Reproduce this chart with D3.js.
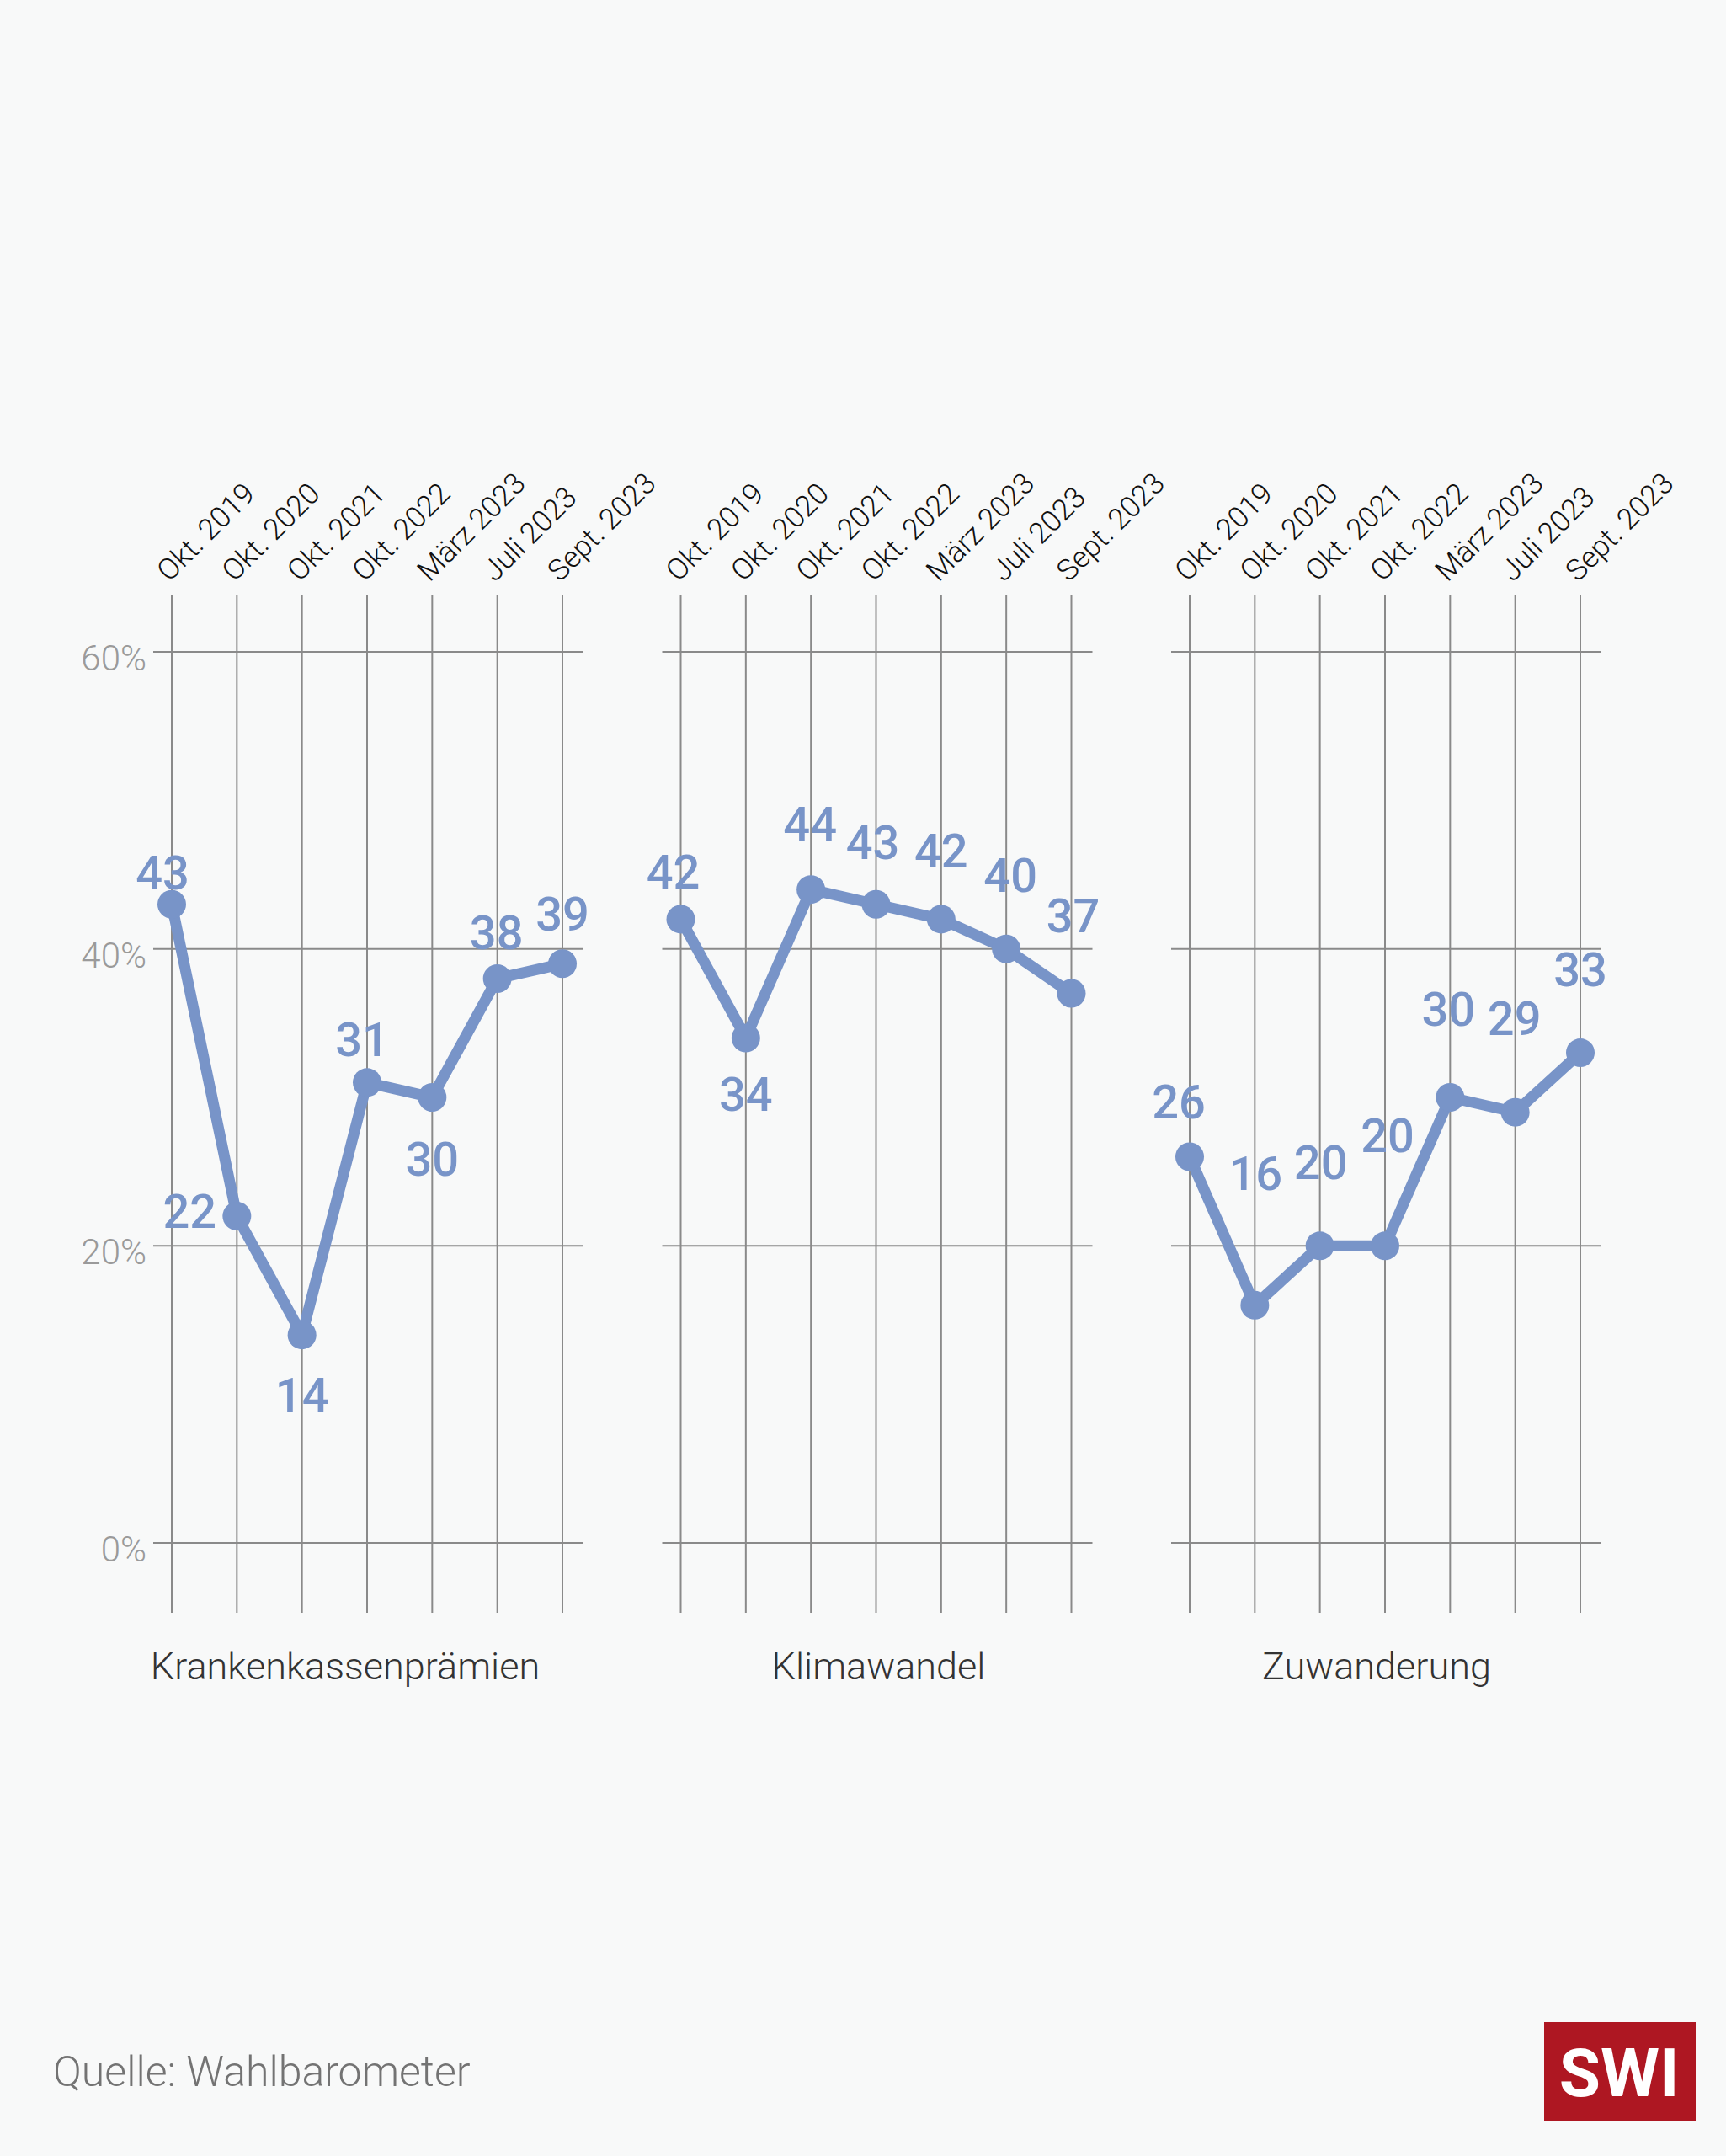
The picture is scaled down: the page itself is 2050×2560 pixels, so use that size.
<!DOCTYPE html>
<html>
<head>
<meta charset="utf-8">
<script src="https://cdn.jsdelivr.net/npm/d3@7"></script>
<style>
  html, body { margin: 0; padding: 0; background: #f8f9f9; }
  svg { display: block; font-family: Roboto, "Noto Sans", sans-serif; }
</style>
</head>
<body>
<div id="chart"></div>
<script>
// data
var dates   = ["Okt. 2019", "Okt. 2020", "Okt. 2021", "Okt. 2022", "März 2023", "Juli 2023", "Sept. 2023"];
var topics  = ["Krankenkassenprämien", "Klimawandel", "Zuwanderung"];
var kranken = [43, 22, 14, 31, 30, 38, 39];
var klima   = [42, 34, 44, 43, 42, 40, 37];
var zuwand  = [26, 16, 20, 20, 30, 29, 33];
var yTicks  = [0, 20, 40, 60];
var source  = "Quelle: Wahlbarometer";

// where each value label sits relative to its dot (dx, dy of label centre)
var labelNudge = [
    [[-11, -38], [-56, -6], [0, 71], [-6, -52], [0, 73], [-1, -55], [0, -59]],
    [[-9, -57], [0, 66], [-1, -78], [-4, -74], [0, -82], [5, -88], [2, -93]],
    [[-13, -66], [1, -157], [1, -99], [3, -131], [-2, -105], [-1, -112], [0, -99]]
];
var titleShift = [-26, 3, -10];

var series = [kranken, klima, zuwand];

var W = 2050, H = 2560;
var blue = "#7894c8";
var grid = "#8a8a8a";

var svg = d3.select("#chart").append("svg").attr("width", W).attr("height", H);
svg.append("rect").attr("width", W).attr("height", H).attr("fill", "#f8f9f9");

var panelX = d3.scalePoint().domain(topics).range([204, 1413]);
var panelW = 464;
var y = d3.scaleLinear().domain([0, 60]).range([1832, 774]);
var lineTop = 706, lineBottom = 1915;

function draw_panel(index, topic) {
    var x0 = panelX(topic);
    var x = d3.scalePoint().domain(dates).range([x0, x0 + panelW]);
    var values = series[index];
    var g = svg.append("g");

    // vertical grid lines
    g.selectAll("line.v").data(dates).enter().append("line")
        .attr("x1", function(d) { return x(d); })
        .attr("x2", function(d) { return x(d); })
        .attr("y1", lineTop)
        .attr("y2", lineBottom)
        .attr("stroke", grid)
        .attr("stroke-width", 2);

    // horizontal grid lines
    g.selectAll("line.h").data(yTicks).enter().append("line")
        .attr("x1", x0 - 22)
        .attr("x2", x0 + panelW + 25)
        .attr("y1", function(d) { return y(d); })
        .attr("y2", function(d) { return y(d); })
        .attr("stroke", grid)
        .attr("stroke-width", 2);

    // rotated date labels
    g.selectAll("text.date").data(dates).enter().append("text")
        .attr("transform", function(d) { return "translate(" + (x(d) - 3) + "," + (lineTop - 14) + ") rotate(-45)"; })
        .attr("font-size", 35)
        .attr("font-weight", 300)
        .attr("fill", "#111")
        .text(function(d) { return d; });

    // y axis labels only on the first panel
    if (index === 0) {
        g.selectAll("text.ytick").data(yTicks).enter().append("text")
            .attr("x", x0 - 30)
            .attr("y", function(d) { return y(d) + 22; })
            .attr("text-anchor", "end")
            .attr("font-size", 42)
            .attr("font-weight", 300)
            .attr("fill", "#9a9a9a")
            .text(function(d) { return d + "%"; });
    }

    var line = d3.line()
        .x(function(d, i) { return x(dates[i]); })
        .y(function(d) { return y(d); });

    g.append("path")
        .datum(values)
        .attr("d", line)
        .attr("fill", "none")
        .attr("stroke", blue)
        .attr("stroke-width", 13)
        .attr("stroke-linejoin", "round")
        .attr("stroke-linecap", "round");

    g.selectAll("circle").data(values).enter().append("circle")
        .attr("cx", function(d, i) { return x(dates[i]); })
        .attr("cy", function(d) { return y(d); })
        .attr("r", 17)
        .attr("fill", blue);

    g.selectAll("text.val").data(values).enter().append("text")
        .attr("x", function(d, i) { return x(dates[i]) + labelNudge[index][i][0]; })
        .attr("y", function(d, i) { return y(d) + labelNudge[index][i][1]; })
        .attr("dy", "0.36em")
        .attr("text-anchor", "middle")
        .attr("font-size", 56)
        .attr("font-weight", 500)
        .attr("fill", blue)
        .text(function(d) { return d; });

    // panel title
    g.append("text")
        .attr("x", x0 + panelW / 2 + titleShift[index])
        .attr("y", 1994)
        .attr("text-anchor", "middle")
        .attr("font-size", 45)
        .attr("font-weight", 300)
        .attr("fill", "#333")
        .text(topic);
}

topics.forEach(function(t, i) { draw_panel(i, t); });

// footer
svg.append("text")
    .attr("x", 63)
    .attr("y", 2477)
    .attr("font-size", 50)
    .attr("font-weight", 300)
    .attr("fill", "#737373")
    .text(source);

var logo = svg.append("g");
logo.append("rect")
    .attr("x", 1834).attr("y", 2401)
    .attr("width", 180).attr("height", 118)
    .attr("fill", "#ae1722");
logo.append("text")
    .attr("x", 1923).attr("y", 2489)
    .attr("text-anchor", "middle")
    .attr("font-size", 80)
    .attr("font-weight", 700)
    .attr("fill", "#fff")
    .text("SWI");
</script>
</body>
</html>
